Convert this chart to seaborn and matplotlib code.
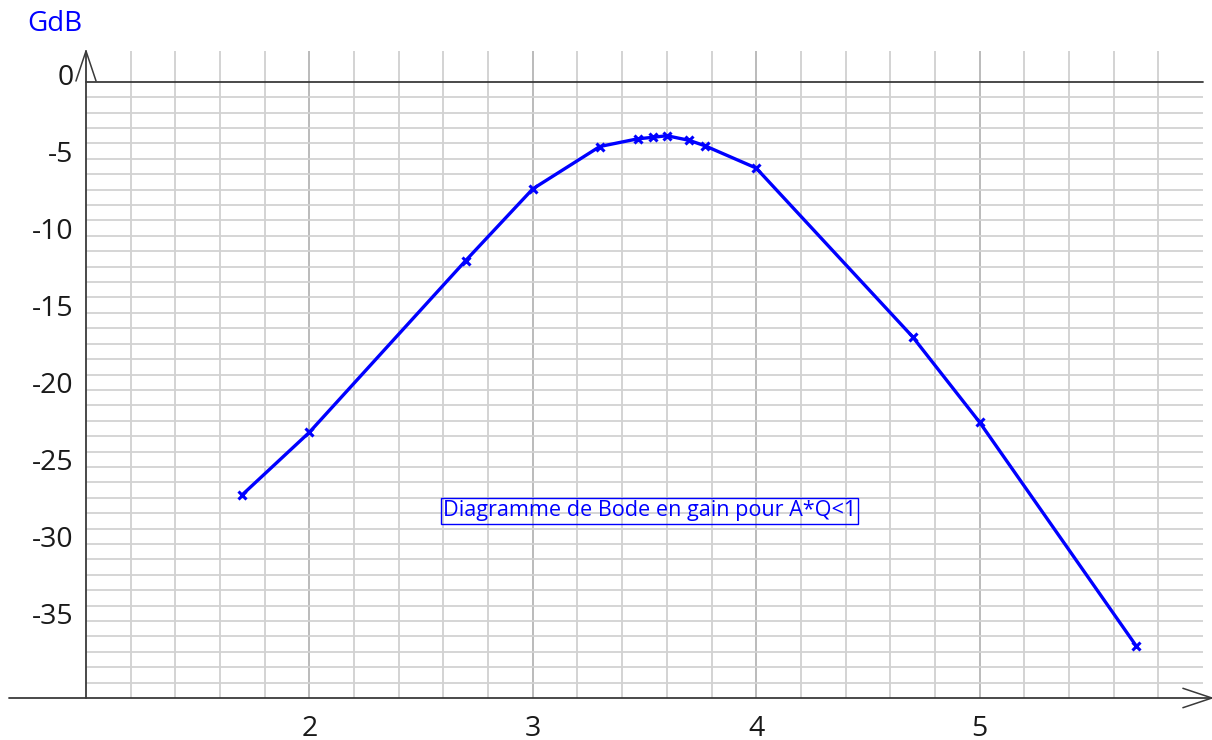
import matplotlib
matplotlib.use("Agg")
import matplotlib.pyplot as plt
import matplotlib.transforms as mtransforms
import seaborn as sns
import numpy as np

# Bode gain measurements
freq = [1.7, 2.0, 2.7, 3.0, 3.3, 3.47, 3.54, 3.6, 3.7, 3.77, 4.0, 4.7, 5.0, 5.7]
gain_db = [-26.8, -22.75, -11.6, -6.95, -4.2, -3.7, -3.6, -3.5, -3.8, -4.15, -5.6,
           -16.55, -22.1, -36.6]

x_ticks = [2, 3, 4, 5]
y_ticks = [0, -5, -10, -15, -20, -25, -30, -35]
y_label = "GdB"
title_box = "Diagramme de Bode en gain pour A*Q<1"

sns.set_style("white")
plt.rcParams["font.family"] = ["Open Sans", "DejaVu Sans"]

fig = plt.figure(figsize=(12.12, 7.40), dpi=100)
ax = fig.add_axes([86 / 1212, 42 / 740, 1117 / 1212, 647 / 740])
ax.set_xlim(1, 6)
ax.set_ylim(-40, 2)
for s in ax.spines.values():
    s.set_visible(False)

# grid
minor_x = np.round(np.arange(1.2, 6.0, 0.2), 2)
for xv in minor_x:
    major = abs(xv - round(xv)) < 1e-6
    ax.vlines(xv, -40, 2, color="#b5b5b5" if major else "#d0d0d0", lw=1.3, zorder=1)
ax.hlines(np.arange(-39, 0), 1, 6, color="#d2d2d2", lw=1.3, zorder=1)

# axes lines and arrows
axis_col = "#3a3a3a"
ax.plot([1, 6], [0, 0], color=axis_col, lw=1.3, zorder=2, clip_on=False)
ax.plot([0.655, 6.04], [-40, -40], color=axis_col, lw=1.3, zorder=2, clip_on=False)
ax.plot([5.91, 6.04, 5.91], [-39.37, -40, -40.63], color=axis_col, lw=1.1,
        zorder=2, clip_on=False)
ax.plot([1, 1], [-40, 2], color=axis_col, lw=1.3, zorder=2, clip_on=False)
ax.plot([0.955, 1, 1.045], [0.05, 2, 0.05], color=axis_col, lw=1.1,
        zorder=2, clip_on=False)

# gain curve
sns.lineplot(x=freq, y=gain_db, ax=ax, color="#0000ff", lw=2.4, marker="x",
             markersize=6, markeredgewidth=2.2, markeredgecolor="#0000ff",
             sort=False, zorder=3, clip_on=False)

ax.set_xticks(x_ticks)
ax.set_xticklabels([str(v) for v in x_ticks])
ax.set_yticks(y_ticks)
ax.set_yticklabels([str(v) for v in y_ticks])
ax.tick_params(axis="both", length=0, labelsize=20.5, labelcolor="#1a1a1a")
ax.tick_params(axis="x", pad=12)
ax.tick_params(axis="y", pad=9)
ax.set_xlabel("")
ax.set_ylabel("")

# y labels sit a little above their grid lines
lift = mtransforms.ScaledTranslation(0, 7 / 100, fig.dpi_scale_trans)
for lab in ax.get_yticklabels():
    lab.set_transform(lab.get_transform() + lift)

ax.text(0.861, 3.75, y_label, color="#0000ff", fontsize=20, ha="center",
        va="center", clip_on=False)

ax.text(3.522, -27.86, title_box, color="#0000ff", fontsize=15.6, ha="center",
        va="center", zorder=4,
        bbox=dict(boxstyle="square,pad=0.1", fc="none", ec="#0000ff", lw=1.0))

fig.savefig("out.png", dpi=100)
